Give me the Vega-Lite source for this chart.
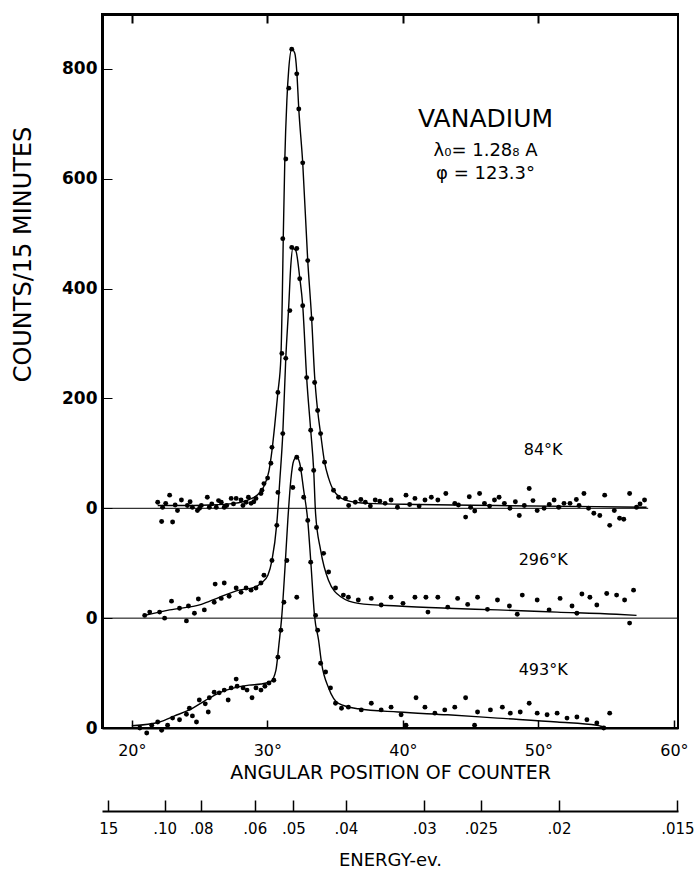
{
  "$schema": "https://vega.github.io/schema/vega-lite/v6.json",
  "width": 576,
  "height": 714,
  "autosize": "none",
  "padding": {"left": 102, "top": 14, "right": 19, "bottom": 143},
  "config": {
    "view": {"stroke": "black", "strokeWidth": 2},
    "font": "DejaVu Sans",
    "axis": {"grid": false, "domainColor": "black", "tickColor": "black", "labelColor": "black", "titleColor": "black", "titleFontWeight": "normal", "labelFont": "DejaVu Sans", "titleFont": "DejaVu Sans"}
  },
  "datasets": {
    "pts": [
      {"T":"84","angle":21.91,"counts":11},{"T":"84","angle":22.27,"counts":2},{"T":"84","angle":22.2,"counts":-24},{"T":"84","angle":22.5,"counts":9},{"T":"84","angle":22.79,"counts":24},{"T":"84","angle":23.01,"counts":-25},{"T":"84","angle":23.2,"counts":6},{"T":"84","angle":23.37,"counts":-4},{"T":"84","angle":23.66,"counts":15},{"T":"84","angle":24.1,"counts":5},{"T":"84","angle":24.3,"counts":12},{"T":"84","angle":24.47,"counts":2},{"T":"84","angle":24.84,"counts":-4},{"T":"84","angle":25.0,"counts":0},{"T":"84","angle":25.13,"counts":5},{"T":"84","angle":25.57,"counts":20},{"T":"84","angle":25.72,"counts":2},{"T":"84","angle":25.9,"counts":8},{"T":"84","angle":26.23,"counts":2},{"T":"84","angle":26.4,"counts":14},{"T":"84","angle":26.6,"counts":11},{"T":"84","angle":26.82,"counts":2},{"T":"84","angle":27.0,"counts":5},{"T":"84","angle":27.33,"counts":18},{"T":"84","angle":27.5,"counts":8},{"T":"84","angle":27.7,"counts":18},{"T":"84","angle":28.06,"counts":15},{"T":"84","angle":28.2,"counts":5},{"T":"84","angle":28.43,"counts":11},{"T":"84","angle":28.6,"counts":20},{"T":"84","angle":28.8,"counts":9},{"T":"84","angle":29.0,"counts":12},{"T":"84","angle":29.16,"counts":18},{"T":"84","angle":29.53,"counts":27},{"T":"84","angle":29.6,"counts":33},{"T":"84","angle":29.75,"counts":45},{"T":"84","angle":30.02,"counts":55},{"T":"84","angle":30.26,"counts":82},{"T":"84","angle":30.34,"counts":111},{"T":"84","angle":30.78,"counts":211},{"T":"84","angle":31.07,"counts":282},{"T":"84","angle":31.14,"counts":491},{"T":"84","angle":31.36,"counts":636},{"T":"84","angle":31.58,"counts":765},{"T":"84","angle":31.8,"counts":836},{"T":"84","angle":32.17,"counts":791},{"T":"84","angle":32.32,"counts":727},{"T":"84","angle":32.61,"counts":629},{"T":"84","angle":32.98,"counts":451},{"T":"84","angle":33.27,"counts":345},{"T":"84","angle":33.49,"counts":229},{"T":"84","angle":33.71,"counts":178},{"T":"84","angle":33.93,"counts":136},{"T":"84","angle":34.22,"counts":84},{"T":"84","angle":34.88,"counts":33},{"T":"84","angle":35.25,"counts":20},{"T":"84","angle":35.76,"counts":18},{"T":"84","angle":36.0,"counts":5},{"T":"84","angle":36.49,"counts":11},{"T":"84","angle":36.9,"counts":16},{"T":"84","angle":37.23,"counts":11},{"T":"84","angle":37.6,"counts":4},{"T":"84","angle":37.96,"counts":15},{"T":"84","angle":38.3,"counts":13},{"T":"84","angle":38.69,"counts":9},{"T":"84","angle":39.13,"counts":15},{"T":"84","angle":39.6,"counts":2},{"T":"84","angle":40.23,"counts":24},{"T":"84","angle":40.5,"counts":7},{"T":"84","angle":40.89,"counts":18},{"T":"84","angle":41.2,"counts":4},{"T":"84","angle":41.63,"counts":15},{"T":"84","angle":42.1,"counts":20},{"T":"84","angle":42.58,"counts":15},{"T":"84","angle":43.17,"counts":27},{"T":"84","angle":43.83,"counts":9},{"T":"84","angle":44.1,"counts":6},{"T":"84","angle":44.63,"counts":-16},{"T":"84","angle":44.9,"counts":21},{"T":"84","angle":45.0,"counts":2},{"T":"84","angle":45.3,"counts":-5},{"T":"84","angle":45.66,"counts":27},{"T":"84","angle":46.02,"counts":9},{"T":"84","angle":46.4,"counts":4},{"T":"84","angle":46.76,"counts":15},{"T":"84","angle":47.1,"counts":20},{"T":"84","angle":47.49,"counts":9},{"T":"84","angle":47.9,"counts":0},{"T":"84","angle":48.3,"counts":12},{"T":"84","angle":48.59,"counts":-13},{"T":"84","angle":48.96,"counts":5},{"T":"84","angle":49.32,"counts":36},{"T":"84","angle":49.6,"counts":14},{"T":"84","angle":49.91,"counts":-4},{"T":"84","angle":50.42,"counts":0},{"T":"84","angle":50.8,"counts":7},{"T":"84","angle":51.16,"counts":15},{"T":"84","angle":51.5,"counts":2},{"T":"84","angle":51.89,"counts":9},{"T":"84","angle":52.33,"counts":9},{"T":"84","angle":52.8,"counts":16},{"T":"84","angle":53.0,"counts":5},{"T":"84","angle":53.36,"counts":27},{"T":"84","angle":53.7,"counts":0},{"T":"84","angle":54.09,"counts":-9},{"T":"84","angle":54.53,"counts":-13},{"T":"84","angle":54.89,"counts":24},{"T":"84","angle":55.26,"counts":-31},{"T":"84","angle":55.6,"counts":-4},{"T":"84","angle":55.99,"counts":-18},{"T":"84","angle":56.3,"counts":-20},{"T":"84","angle":56.73,"counts":27},{"T":"84","angle":57.24,"counts":2},{"T":"84","angle":57.5,"counts":8},{"T":"84","angle":57.83,"counts":15},
      {"T":"296","angle":20.95,"counts":5},{"T":"296","angle":21.32,"counts":11},{"T":"296","angle":22.05,"counts":11},{"T":"296","angle":22.42,"counts":0},{"T":"296","angle":22.93,"counts":31},{"T":"296","angle":23.52,"counts":18},{"T":"296","angle":24.03,"counts":-5},{"T":"296","angle":24.18,"counts":22},{"T":"296","angle":24.62,"counts":9},{"T":"296","angle":24.91,"counts":35},{"T":"296","angle":25.35,"counts":15},{"T":"296","angle":26.08,"counts":29},{"T":"296","angle":26.15,"counts":62},{"T":"296","angle":26.6,"counts":36},{"T":"296","angle":26.82,"counts":64},{"T":"296","angle":27.18,"counts":40},{"T":"296","angle":27.7,"counts":55},{"T":"296","angle":28.06,"counts":47},{"T":"296","angle":28.43,"counts":55},{"T":"296","angle":28.8,"counts":51},{"T":"296","angle":29.16,"counts":55},{"T":"296","angle":29.53,"counts":64},{"T":"296","angle":29.75,"counts":78},{"T":"296","angle":30.34,"counts":105},{"T":"296","angle":30.7,"counts":169},{"T":"296","angle":30.78,"counts":229},{"T":"296","angle":31.14,"counts":336},{"T":"296","angle":31.36,"counts":473},{"T":"296","angle":31.66,"counts":560},{"T":"296","angle":31.8,"counts":675},{"T":"296","angle":32.17,"counts":673},{"T":"296","angle":32.39,"counts":618},{"T":"296","angle":32.61,"counts":569},{"T":"296","angle":32.9,"counts":438},{"T":"296","angle":33.2,"counts":342},{"T":"296","angle":33.42,"counts":269},{"T":"296","angle":33.63,"counts":165},{"T":"296","angle":34.15,"counts":118},{"T":"296","angle":34.52,"counts":84},{"T":"296","angle":35.03,"counts":55},{"T":"296","angle":35.61,"counts":42},{"T":"296","angle":35.98,"counts":38},{"T":"296","angle":36.71,"counts":33},{"T":"296","angle":37.67,"counts":36},{"T":"296","angle":38.4,"counts":24},{"T":"296","angle":39.13,"counts":38},{"T":"296","angle":40.01,"counts":27},{"T":"296","angle":40.89,"counts":38},{"T":"296","angle":41.7,"counts":38},{"T":"296","angle":41.85,"counts":11},{"T":"296","angle":42.58,"counts":38},{"T":"296","angle":43.31,"counts":20},{"T":"296","angle":44.04,"counts":36},{"T":"296","angle":44.78,"counts":25},{"T":"296","angle":45.51,"counts":38},{"T":"296","angle":46.24,"counts":16},{"T":"296","angle":46.98,"counts":33},{"T":"296","angle":47.86,"counts":22},{"T":"296","angle":48.44,"counts":7},{"T":"296","angle":48.81,"counts":42},{"T":"296","angle":49.91,"counts":33},{"T":"296","angle":50.79,"counts":15},{"T":"296","angle":51.6,"counts":36},{"T":"296","angle":52.48,"counts":22},{"T":"296","angle":52.84,"counts":9},{"T":"296","angle":53.21,"counts":44},{"T":"296","angle":53.8,"counts":38},{"T":"296","angle":54.31,"counts":24},{"T":"296","angle":55.04,"counts":45},{"T":"296","angle":55.77,"counts":42},{"T":"296","angle":56.36,"counts":33},{"T":"296","angle":56.73,"counts":-9},{"T":"296","angle":57.02,"counts":51},
      {"T":"493","angle":20.59,"counts":0},{"T":"493","angle":21.1,"counts":-9},{"T":"493","angle":21.47,"counts":5},{"T":"493","angle":21.91,"counts":11},{"T":"493","angle":22.2,"counts":-4},{"T":"493","angle":22.64,"counts":5},{"T":"493","angle":23.01,"counts":18},{"T":"493","angle":23.52,"counts":15},{"T":"493","angle":24.03,"counts":25},{"T":"493","angle":24.25,"counts":36},{"T":"493","angle":24.47,"counts":22},{"T":"493","angle":24.77,"counts":11},{"T":"493","angle":24.98,"counts":51},{"T":"493","angle":25.42,"counts":44},{"T":"493","angle":25.64,"counts":29},{"T":"493","angle":25.72,"counts":55},{"T":"493","angle":26.08,"counts":65},{"T":"493","angle":26.45,"counts":64},{"T":"493","angle":26.82,"counts":69},{"T":"493","angle":27.11,"counts":51},{"T":"493","angle":27.33,"counts":73},{"T":"493","angle":27.7,"counts":89},{"T":"493","angle":27.77,"counts":76},{"T":"493","angle":28.21,"counts":73},{"T":"493","angle":28.5,"counts":69},{"T":"493","angle":28.87,"counts":55},{"T":"493","angle":29.16,"counts":73},{"T":"493","angle":29.53,"counts":69},{"T":"493","angle":29.82,"counts":76},{"T":"493","angle":30.12,"counts":82},{"T":"493","angle":30.48,"counts":87},{"T":"493","angle":30.78,"counts":129},{"T":"493","angle":31.0,"counts":178},{"T":"493","angle":31.22,"counts":229},{"T":"493","angle":31.44,"counts":305},{"T":"493","angle":31.88,"counts":438},{"T":"493","angle":32.17,"counts":493},{"T":"493","angle":32.46,"counts":471},{"T":"493","angle":32.68,"counts":420},{"T":"493","angle":32.17,"counts":238},{"T":"493","angle":32.98,"counts":378},{"T":"493","angle":33.2,"counts":302},{"T":"493","angle":33.56,"counts":205},{"T":"493","angle":33.71,"counts":178},{"T":"493","angle":33.93,"counts":118},{"T":"493","angle":34.3,"counts":102},{"T":"493","angle":34.66,"counts":73},{"T":"493","angle":35.03,"counts":45},{"T":"493","angle":35.47,"counts":36},{"T":"493","angle":35.98,"counts":38},{"T":"493","angle":36.93,"counts":33},{"T":"493","angle":37.67,"counts":45},{"T":"493","angle":38.4,"counts":33},{"T":"493","angle":39.13,"counts":38},{"T":"493","angle":39.87,"counts":24},{"T":"493","angle":40.23,"counts":5},{"T":"493","angle":40.97,"counts":55},{"T":"493","angle":41.63,"counts":38},{"T":"493","angle":42.36,"counts":27},{"T":"493","angle":43.09,"counts":33},{"T":"493","angle":43.83,"counts":38},{"T":"493","angle":44.63,"counts":55},{"T":"493","angle":45.29,"counts":5},{"T":"493","angle":45.51,"counts":29},{"T":"493","angle":46.46,"counts":33},{"T":"493","angle":47.34,"counts":38},{"T":"493","angle":47.93,"counts":27},{"T":"493","angle":48.66,"counts":29},{"T":"493","angle":49.32,"counts":45},{"T":"493","angle":49.91,"counts":27},{"T":"493","angle":50.64,"counts":24},{"T":"493","angle":51.38,"counts":27},{"T":"493","angle":52.11,"counts":18},{"T":"493","angle":52.84,"counts":20},{"T":"493","angle":53.58,"counts":15},{"T":"493","angle":54.31,"counts":9},{"T":"493","angle":54.82,"counts":0},{"T":"493","angle":55.26,"counts":27}
    ],
    "fit": [
      {"T":"84","angle":21.91,"counts":5},{"T":"84","angle":23.52,"counts":5},{"T":"84","angle":25.72,"counts":6},{"T":"84","angle":27.55,"counts":9},{"T":"84","angle":28.65,"counts":16},{"T":"84","angle":29.38,"counts":27},{"T":"84","angle":29.75,"counts":40},{"T":"84","angle":30.12,"counts":68},{"T":"84","angle":30.34,"counts":105},{"T":"84","angle":30.56,"counts":155},{"T":"84","angle":30.78,"counts":211},{"T":"84","angle":31.0,"counts":275},{"T":"84","angle":31.1,"counts":380},{"T":"84","angle":31.18,"counts":500},{"T":"84","angle":31.29,"counts":636},{"T":"84","angle":31.44,"counts":742},{"T":"84","angle":31.58,"counts":800},{"T":"84","angle":31.8,"counts":836},{"T":"84","angle":32.02,"counts":829},{"T":"84","angle":32.17,"counts":796},{"T":"84","angle":32.32,"counts":727},{"T":"84","angle":32.61,"counts":629},{"T":"84","angle":32.98,"counts":451},{"T":"84","angle":33.27,"counts":345},{"T":"84","angle":33.49,"counts":240},{"T":"84","angle":33.71,"counts":178},{"T":"84","angle":33.93,"counts":136},{"T":"84","angle":34.22,"counts":84},{"T":"84","angle":34.52,"counts":55},{"T":"84","angle":34.88,"counts":33},{"T":"84","angle":35.76,"counts":15},{"T":"84","angle":37.45,"counts":9},{"T":"84","angle":41.11,"counts":7},{"T":"84","angle":46.98,"counts":5},{"T":"84","angle":54.31,"counts":3},{"T":"84","angle":57.98,"counts":2},
      {"T":"296","angle":20.95,"counts":5},{"T":"296","angle":22.79,"counts":15},{"T":"296","angle":25.13,"counts":25},{"T":"296","angle":26.45,"counts":38},{"T":"296","angle":27.92,"counts":51},{"T":"296","angle":29.02,"counts":56},{"T":"296","angle":29.6,"counts":65},{"T":"296","angle":30.04,"counts":78},{"T":"296","angle":30.34,"counts":105},{"T":"296","angle":30.7,"counts":173},{"T":"296","angle":30.92,"counts":251},{"T":"296","angle":31.14,"counts":336},{"T":"296","angle":31.36,"counts":473},{"T":"296","angle":31.58,"counts":569},{"T":"296","angle":31.73,"counts":642},{"T":"296","angle":31.88,"counts":673},{"T":"296","angle":32.1,"counts":669},{"T":"296","angle":32.39,"counts":620},{"T":"296","angle":32.61,"counts":569},{"T":"296","angle":32.9,"counts":438},{"T":"296","angle":33.2,"counts":342},{"T":"296","angle":33.42,"counts":269},{"T":"296","angle":33.56,"counts":190},{"T":"296","angle":33.93,"counts":124},{"T":"296","angle":34.51,"counts":69},{"T":"296","angle":35.47,"counts":38},{"T":"296","angle":36.71,"counts":27},{"T":"296","angle":39.65,"counts":22},{"T":"296","angle":43.31,"counts":18},{"T":"296","angle":46.98,"counts":15},{"T":"296","angle":51.38,"counts":11},{"T":"296","angle":55.77,"counts":7},{"T":"296","angle":57.24,"counts":5},
      {"T":"493","angle":20.0,"counts":4},{"T":"493","angle":22.05,"counts":11},{"T":"493","angle":23.15,"counts":22},{"T":"493","angle":24.25,"counts":33},{"T":"493","angle":25.35,"counts":49},{"T":"493","angle":26.45,"counts":64},{"T":"493","angle":27.55,"counts":73},{"T":"493","angle":28.65,"counts":78},{"T":"493","angle":29.53,"counts":80},{"T":"493","angle":30.26,"counts":85},{"T":"493","angle":30.63,"counts":105},{"T":"493","angle":30.85,"counts":151},{"T":"493","angle":31.07,"counts":205},{"T":"493","angle":31.29,"counts":287},{"T":"493","angle":31.51,"counts":378},{"T":"493","angle":31.73,"counts":451},{"T":"493","angle":31.95,"counts":487},{"T":"493","angle":32.17,"counts":493},{"T":"493","angle":32.39,"counts":482},{"T":"493","angle":32.68,"counts":433},{"T":"493","angle":32.98,"counts":378},{"T":"493","angle":33.2,"counts":305},{"T":"493","angle":33.49,"counts":202},{"T":"493","angle":33.78,"counts":160},{"T":"493","angle":34.0,"counts":118},{"T":"493","angle":34.52,"counts":73},{"T":"493","angle":35.25,"counts":45},{"T":"493","angle":36.71,"counts":35},{"T":"493","angle":39.65,"counts":29},{"T":"493","angle":43.31,"counts":24},{"T":"493","angle":46.98,"counts":18},{"T":"493","angle":51.38,"counts":11},{"T":"493","angle":54.31,"counts":5},{"T":"493","angle":55.04,"counts":0}
    ]
  },
  "resolve": {"scale": {"y": "independent"}, "axis": {"x": "independent", "y": "independent"}},
  "layer": [
    {
      "layer": [
        {"data": {"name": "fit"}, "transform": [{"filter": "datum.T == '84'"}], "mark": {"type": "line", "interpolate": "monotone", "color": "black", "strokeWidth": 1.4},
          "encoding": {
            "x": {"field": "angle", "type": "quantitative", "scale": {"domain": [17.8, 60.3], "nice": false, "zero": false},
              "axis": {"orient": "bottom", "values": [20, 30, 40, 50, 60], "labelExpr": "datum.value + '°'", "labelFlush": false, "tickSize": -8, "tickWidth": 1.5, "labelPadding": 22, "labelFontSize": 16, "domainWidth": 2,
                "title": "ANGULAR POSITION OF COUNTER", "titleFontSize": 19, "titleY": 44, "titleBaseline": "middle"}},
            "y": {"field": "counts", "type": "quantitative", "scale": {"domain": [-400, 900], "nice": false, "zero": false},
              "axis": {"orient": "left", "values": [800, 600, 400, 200, 0, -200, -400], "labelExpr": "datum.value < 0 ? '0' : datum.label", "tickSize": -10, "tickWidth": 1, "labelPadding": 15, "labelFontSize": 17, "labelFontWeight": "bold", "domainWidth": 3,
                "title": "COUNTS/15 MINUTES", "titleFontSize": 24, "titleX": -79, "titleY": 240, "titleAngle": -90, "titleAlign": "center", "titleBaseline": "middle"}}
          }},
        {"data": {"name": "pts"}, "transform": [{"filter": "datum.T == '84'"}], "mark": {"type": "circle", "color": "black", "size": 24, "opacity": 1},
          "encoding": {"x": {"field": "angle", "type": "quantitative"}, "y": {"field": "counts", "type": "quantitative"}}},
        {"data": {"values": [{}]}, "mark": {"type": "rule", "color": "black", "strokeWidth": 1},
          "encoding": {"y": {"datum": 0}, "x": {"datum": 17.8}, "x2": {"datum": 58.1}}},
        {"data": {"values": [{}]}, "mark": {"type": "text", "fontSize": 16, "color": "black", "align": "center", "baseline": "middle"},
          "encoding": {"x": {"datum": 50.35}, "y": {"datum": 107}, "text": {"value": "84°K"}}},
        {"data": {"values": [{}]}, "mark": {"type": "text", "fontSize": 25, "color": "black", "align": "center", "baseline": "middle"},
          "encoding": {"x": {"datum": 46.1}, "y": {"datum": 709}, "text": {"value": "VANADIUM"}}},
        {"data": {"values": [{}]}, "mark": {"type": "text", "fontSize": 18, "color": "black", "align": "center", "baseline": "middle"},
          "encoding": {"x": {"datum": 46.1}, "y": {"datum": 651}, "text": {"value": "λ₀= 1.28₈ A"}}},
        {"data": {"values": [{}]}, "mark": {"type": "text", "fontSize": 18, "color": "black", "align": "center", "baseline": "middle"},
          "encoding": {"x": {"datum": 46.1}, "y": {"datum": 609}, "text": {"value": "φ = 123.3°"}}}
      ]
    },
    {
      "layer": [
        {"data": {"name": "fit"}, "transform": [{"filter": "datum.T == '296'"}], "mark": {"type": "line", "interpolate": "monotone", "color": "black", "strokeWidth": 1.4},
          "encoding": {
            "x": {"field": "angle", "type": "quantitative", "scale": {"domain": [17.8, 60.3], "nice": false, "zero": false},
              "axis": {"orient": "bottom", "offset": 83, "values": [18.27, 22.42, 25.11, 29.07, 31.92, 35.8, 41.58, 45.76, 51.52, 60.26],
                "labelExpr": "['15','.10','.08','.06','.05','.04','.03','.025','.02','.015'][indexof([18.27,22.42,25.11,29.07,31.92,35.8,41.58,45.76,51.52,60.26], datum.value)]",
                "labelFlush": false, "labelOverlap": false, "tickSize": -11, "tickWidth": 1.5, "labelPadding": 21, "labelFontSize": 15, "domainWidth": 2,
                "title": "ENERGY-ev.", "titleFontSize": 18, "titleY": 49, "titleBaseline": "middle"}},
            "y": {"field": "counts", "type": "quantitative", "scale": {"domain": [-200, 1100], "nice": false, "zero": false}, "axis": null}
          }},
        {"data": {"name": "pts"}, "transform": [{"filter": "datum.T == '296'"}], "mark": {"type": "circle", "color": "black", "size": 24, "opacity": 1},
          "encoding": {"x": {"field": "angle", "type": "quantitative"}, "y": {"field": "counts", "type": "quantitative"}}},
        {"data": {"values": [{}]}, "mark": {"type": "rule", "color": "black", "strokeWidth": 1},
          "encoding": {"y": {"datum": 0}, "x": {"datum": 17.8}, "x2": {"datum": 60.3}}},
        {"data": {"values": [{}]}, "mark": {"type": "text", "fontSize": 16, "color": "black", "align": "center", "baseline": "middle"},
          "encoding": {"x": {"datum": 50.35}, "y": {"datum": 105}, "text": {"value": "296°K"}}}
      ]
    },
    {
      "layer": [
        {"data": {"name": "fit"}, "transform": [{"filter": "datum.T == '493'"}], "mark": {"type": "line", "interpolate": "monotone", "color": "black", "strokeWidth": 1.4},
          "encoding": {
            "x": {"field": "angle", "type": "quantitative", "scale": {"domain": [17.8, 60.3], "nice": false, "zero": false},
              "axis": {"orient": "top", "values": [20, 30, 40, 50], "labels": false, "tickSize": -9, "tickWidth": 2, "domainWidth": 3, "title": null}},
            "y": {"field": "counts", "type": "quantitative", "scale": {"domain": [0, 1300], "nice": false, "zero": false}, "axis": null}
          }},
        {"data": {"name": "pts"}, "transform": [{"filter": "datum.T == '493'"}], "mark": {"type": "circle", "color": "black", "size": 24, "opacity": 1},
          "encoding": {"x": {"field": "angle", "type": "quantitative"}, "y": {"field": "counts", "type": "quantitative"}}},
        {"data": {"values": [{}]}, "mark": {"type": "text", "fontSize": 16, "color": "black", "align": "center", "baseline": "middle"},
          "encoding": {"x": {"datum": 50.35}, "y": {"datum": 105}, "text": {"value": "493°K"}}}
      ]
    }
  ]
}
